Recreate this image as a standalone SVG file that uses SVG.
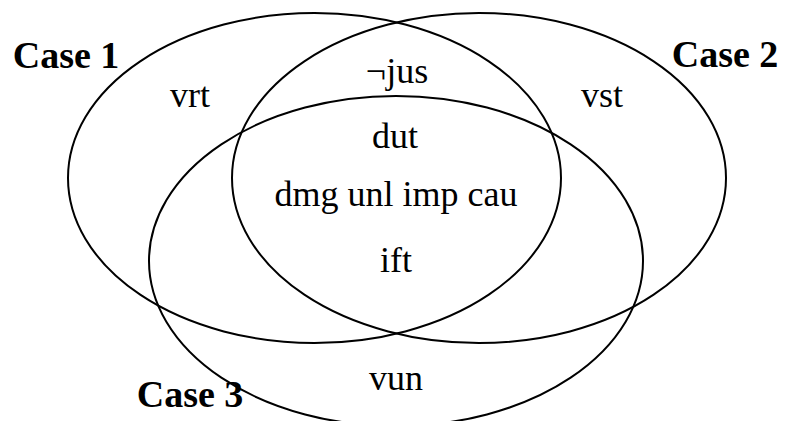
<svg xmlns="http://www.w3.org/2000/svg" width="785" height="421" viewBox="0 0 785 421">
<style>
.set{fill:none;stroke:#000;stroke-width:2}
.lbl{font-family:"Liberation Serif","DejaVu Serif",serif;font-size:36px;fill:#000;text-anchor:middle}
.case{font-family:"Liberation Serif","DejaVu Serif",serif;font-size:38px;font-weight:bold;fill:#000;text-anchor:middle}
</style>
<rect width="785" height="421" fill="#fff"/>
<g id="case1">
<ellipse class="set" cx="314.5" cy="178" rx="246.5" ry="165"/>
<text class="case" x="66" y="68">Case 1</text>
</g>
<g id="case2">
<ellipse class="set" cx="479" cy="178" rx="247" ry="165"/>
<text class="case" x="725" y="67">Case 2</text>
</g>
<g id="case3">
<ellipse class="set" cx="396" cy="261" rx="247" ry="165"/>
<text class="case" x="190" y="407">Case 3</text>
</g>
<g id="labels">
<text class="lbl" x="190" y="107">vrt</text>
<text class="lbl" x="602" y="107">vst</text>
<text class="lbl" x="397" y="83">¬jus</text>
<text class="lbl" x="395" y="148">dut</text>
<text class="lbl" x="396" y="206">dmg unl imp cau</text>
<text class="lbl" x="396" y="272">ift</text>
<text class="lbl" x="396" y="390">vun</text>
</g>
<g id="connectors"/>
</svg>
